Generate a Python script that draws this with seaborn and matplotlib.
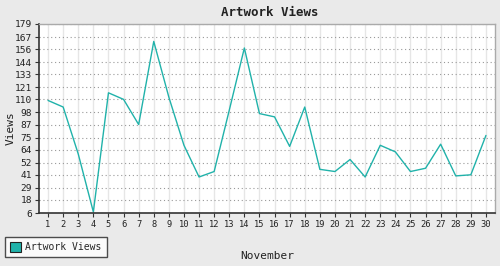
import matplotlib
matplotlib.use("Agg")
import matplotlib.pyplot as plt
import seaborn as sns
import pandas as pd
from matplotlib.patches import Patch

days = list(range(1, 31))
views = [109, 103, 60, 7, 116, 110, 87, 163, 112, 68, 39, 44, 100, 157, 97,
         94, 67, 103, 46, 44, 55, 39, 68, 62, 44, 47, 69, 40, 41, 77]
y_ticks = [6, 18, 29, 41, 52, 64, 75, 87, 98, 110, 121, 133, 144, 156, 167, 179]
title = "Artwork Views"
series_name = "Artwork Views"
x_label = "November"
y_label = "Views"

df = pd.DataFrame({"day": days, "views": views})

sns.set_theme(style="white")
plt.rcParams["font.family"] = ["DejaVu Sans Mono", "DejaVu Sans"]

fig = plt.figure(figsize=(5, 2.66), dpi=100, facecolor="#eaeaea")
ax = fig.add_axes([0.078, 0.199, 0.912, 0.711])
ax.set_facecolor("white")

line_color = "#20b2aa"
sns.lineplot(data=df, x="day", y="views", ax=ax, color=line_color, linewidth=1.0)

ax.set_xlim(0.4, 30.6)
ax.set_ylim(6, 179)
ax.set_xticks(days)
ax.set_xticklabels([str(d) for d in days], fontsize=6.3)
ax.set_yticks(y_ticks)
ax.set_yticklabels([str(v) for v in y_ticks], fontsize=6.8)

ax.xaxis.grid(True, color="#e6e6e6", linewidth=1.0, linestyle="-")
ax.yaxis.grid(True, color="#999999", linewidth=0.8, linestyle=(0, (1, 2.5)))
ax.set_axisbelow(True)

for s in ["left", "bottom"]:
    ax.spines[s].set_color("#333333")
    ax.spines[s].set_linewidth(1.2)
for s in ["top", "right"]:
    ax.spines[s].set_color("#aaaaaa")
    ax.spines[s].set_linewidth(1.0)

ax.tick_params(axis="both", which="both", direction="out", length=3, width=0.8,
               color="#333333", labelcolor="#222222", pad=2,
               bottom=True, left=True)

ax.set_xlabel(x_label, fontsize=8, color="#222222", labelpad=16)
ax.set_ylabel(y_label, fontsize=8, color="#222222")
ax.yaxis.set_label_coords(-0.051, 0.45)
fig.text(0.54, 0.952, title, ha="center", va="center", fontsize=9,
         fontweight="bold", color="#222222")

handle = Patch(facecolor=line_color, edgecolor="#222222", linewidth=0.8, label=series_name)
leg = fig.legend(handles=[handle], loc="lower left", bbox_to_anchor=(0.01, 0.032),
                 fontsize=7, frameon=True, fancybox=False, handlelength=1.1,
                 handleheight=1.1, handletextpad=0.4, borderpad=0.55,
                 borderaxespad=0.0)
leg.get_frame().set_edgecolor("#222222")
leg.get_frame().set_facecolor("white")
leg.get_frame().set_linewidth(1.0)

fig.savefig("out.png", dpi=100, facecolor=fig.get_facecolor())
